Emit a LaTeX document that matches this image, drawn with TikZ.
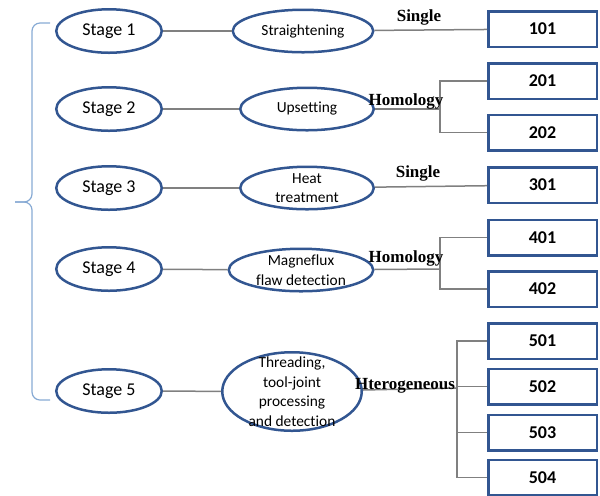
\documentclass[tikz,border=0pt]{standalone}
\usepackage{fontspec}
\setmainfont{Carlito}[Ligatures=NoCommon]
\newfontfamily\labelfont{Liberation Serif}
\usetikzlibrary{shapes,positioning}
\definecolor{stageblue}{RGB}{50,86,145}
\definecolor{linkgray}{RGB}{128,128,128}
\definecolor{bracketblue}{RGB}{135,170,212}

\tikzset{
  stage/.style={draw=stageblue, line width=1.25pt, ellipse, inner sep=0pt,
    minimum width=52.75pt, minimum height=21.75pt, font=\fontsize{9}{10}\selectfont},
  process/.style={draw=stageblue, line width=1.25pt, ellipse, inner xsep=0pt, inner ysep=-1pt,
    minimum height=21.25pt, align=center, font=\fontsize{7.7}{9.75}\selectfont},
  codebox/.style={draw=stageblue, line width=1.25pt, rectangle,
    minimum width=54.25pt, minimum height=17.75pt, font=\bfseries\fontsize{9}{10}\selectfont},
  link/.style={draw=linkgray, line width=0.75pt},
  kind/.style={inner sep=0pt, font=\labelfont\bfseries\fontsize{8.5}{10}\selectfont},
  bracket/.style={draw=bracketblue, line width=0.6pt, rounded corners=4pt}
}

\begin{document}
\begin{tikzpicture}[x=0.5pt,y=-0.5pt]
  \useasboundingbox (0,0) rectangle (600,495);

  % Draw the bracket on the left
  \draw[bracket] (50,23) -- (32,23) -- (32,202) -- (15,202);
  \draw[bracket] (50,400) -- (32,400) -- (32,202) -- (15,202);

  % Draw stages
  \node[stage] (s1) at (109,31) {Stage 1};
  \node[stage] (s2) at (109,109) {Stage 2};
  \node[stage] (s3) at (109,188) {Stage 3};
  \node[stage] (s4) at (109,269) {Stage 4};
  \node[stage] (s5) at (109,391) {Stage 5};

  % Draw processes
  \node[process, minimum width=70.25pt] (p1) at (303,31) {Straightening};
  \node[process, minimum width=66.75pt] (p2) at (307,109) {Upsetting};
  \node[process, minimum width=66.75pt] (p3) at (307,188) {Heat\\treatment};
  \node[process, minimum width=72.25pt] (p4) at (301,270) {Magneflux\\flaw detection};
  \node[process, minimum width=69.75pt, minimum height=39.25pt, inner ysep=-4.4pt] (p5) at (292,391.5)
    {Threading,\\tool-joint\\processing\\and detection};

  % Draw code boxes
  \node[codebox] (b101) at (542.5,29) {101};
  \node[codebox] (b201) at (542.5,81) {201};
  \node[codebox] (b202) at (542.5,132.5) {202};
  \node[codebox] (b301) at (542.5,185) {301};
  \node[codebox] (b401) at (542.5,237.5) {401};
  \node[codebox] (b402) at (542.5,289) {402};
  \node[codebox] (b501) at (542.5,341) {501};
  \node[codebox] (b502) at (542.5,386.5) {502};
  \node[codebox] (b503) at (542.5,432.5) {503};
  \node[codebox] (b504) at (542.5,477.5) {504};

  % Branch points
  \coordinate (fork2) at (440,109);
  \coordinate (fork4) at (440,269);
  \coordinate (fork5) at (457,388);

  % Stage to process connections
  \foreach \i in {1,...,5}
    \draw[link] (s\i) -- (p\i);

  % Process to code connections
  \draw[link] (p1) -- (b101);
  \draw[link] (p3) -- (b301);
  \draw[link] (p2) -- (fork2);
  \draw[link] (fork2) |- (b201);
  \draw[link] (fork2) |- (b202);
  \draw[link] (p4) -- (fork4);
  \draw[link] (fork4) |- (b401);
  \draw[link] (fork4) |- (b402);
  \draw[link] (p5) -- (fork5);
  \foreach \n in {501,...,504}
    \draw[link] (fork5) |- (b\n);

  % Relation labels
  \node[kind] (single1) at (419,17) {Single};
  \node[kind] (homology2) at (406,101) {Homology};
  \node[kind] (single3) at (418,173) {Single};
  \node[kind] (homology4) at (406,258) {Homology};
  \node[kind] (hetero5) at (405,386) {Hterogeneous};
\end{tikzpicture}
\end{document}
